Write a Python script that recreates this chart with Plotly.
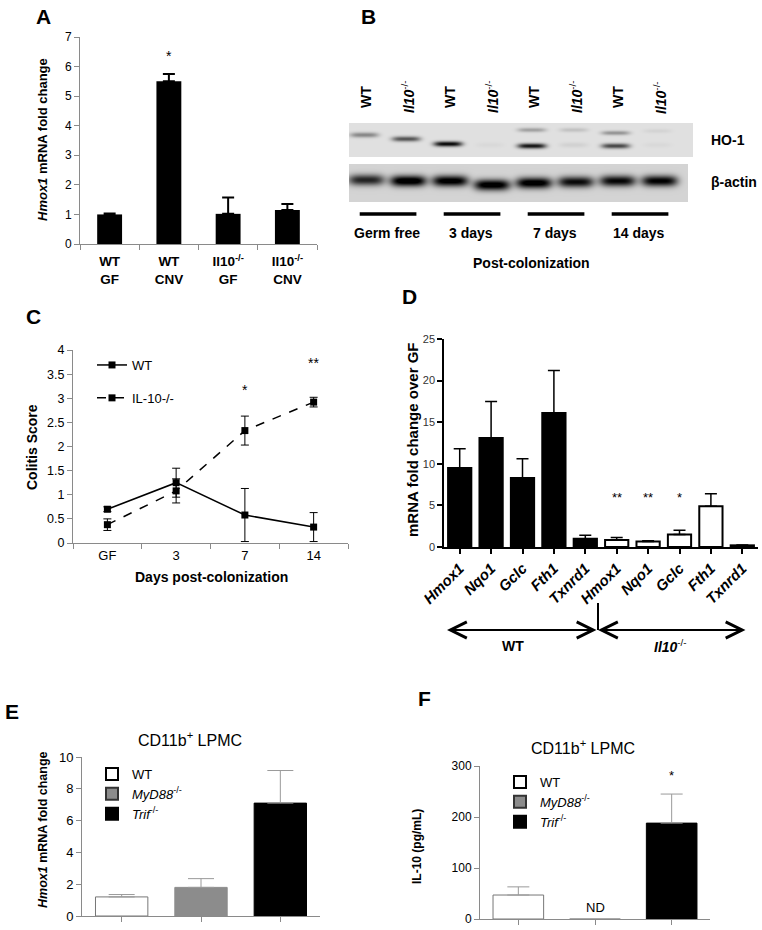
import numpy as np
import plotly.graph_objects as go

W, H = 762, 930
FONT = "Liberation Sans, Arial, sans-serif"


def px(x):
    return x / W


def py(y):
    return 1 - y / H


# ---------------- data ----------------
# Panel A
a_groups = ["WT<br>GF", "WT<br>CNV", "Il10<sup>-/-</sup><br>GF", "Il10<sup>-/-</sup><br>CNV"]
a_values = [1.0, 5.5, 1.02, 1.15]
a_err = [0.03, 0.25, 0.55, 0.2]
a_stars = ["", "*", "", ""]

# Panel B (western blot band intensities, 8 lanes)
b_lane_names = ["WT", "Il10-/-", "WT", "Il10-/-", "WT", "Il10-/-", "WT", "Il10-/-"]
b_ho1 = [0.35, 0.55, 0.85, 0.03, 0.80, 0.06, 0.60, 0.03]
b_ho1_row = [12, 16, 21, 22, 23, 22, 23, 22]
b_ho1_upper = [0.0, 0.0, 0.0, 0.0, 0.25, 0.12, 0.30, 0.05]
b_ho1_upper_row = [6, 6, 6, 6, 7, 7, 10, 8]
b_actin = [0.70, 0.95, 0.90, 0.92, 0.92, 0.80, 0.82, 0.85]
b_actin_row = [57, 58, 58, 62, 60, 59, 58, 58]
b_timepoints = ["Germ free", "3 days", "7 days", "14 days"]

# Panel C
c_days = ["GF", "3", "7", "14"]
c_wt = [0.70, 1.25, 0.58, 0.33]
c_wt_err = [0.05, 0.30, 0.55, 0.30]
c_il10 = [0.38, 1.08, 2.33, 2.92]
c_il10_err = [0.12, 0.25, 0.30, 0.10]
c_stars = ["", "", "*", "**"]
c_star_y = [0, 0, 3.17, 3.73]

# Panel D
d_genes = ["Hmox1", "Nqo1", "Gclc", "Fth1", "Txnrd1"]
d_wt = [9.5, 13.1, 8.3, 16.1, 1.0]
d_wt_err = [2.3, 4.4, 2.3, 5.1, 0.4]
d_il10 = [0.85, 0.65, 1.5, 4.9, 0.2]
d_il10_err = [0.3, 0.1, 0.5, 1.5, 0.05]
d_il10_stars = ["**", "**", "*", "", ""]

# Panel E
e_groups = ["WT", "<i>MyD88</i><sup>-/-</sup>", "<i>Trif</i><sup>-/-</sup>"]
e_values = [1.2, 1.8, 7.1]
e_err = [0.15, 0.55, 2.05]

# Panel F
f_values = [47, 0, 188]
f_err = [16, 0, 57]
f_labels = ["", "ND", ""]
f_stars = ["", "", "*"]

group_fill = ["white", "#8c8c8c", "black"]
group_line = ["#777777", "#8c8c8c", "black"]
legend_line = ["black", "#333333", "black"]

fig = go.Figure()

# ---------------- Panel A ----------------
fig.add_trace(go.Bar(
    x=a_groups, y=a_values, width=0.42,
    marker=dict(color="black", line=dict(width=0)),
    error_y=dict(type="data", array=a_err, arrayminus=[0] * 4, symmetric=False,
                 color="black", thickness=2, width=6),
    xaxis="x", yaxis="y", showlegend=False, hoverinfo="skip"))

# ---------------- Panel B (blot) ----------------
nx, nrows = 344, 79
xs = np.linspace(-0.405, 7.786, nx)
rows = np.arange(nrows) + 0.5
X, R = np.meshgrid(xs, rows)
ho = np.full_like(X, 0.12)
for i in range(8):
    hprof = np.exp(-((X - i + 0.05) / 0.34) ** 4)
    ho += b_ho1[i] * hprof * np.exp(-((R - b_ho1_row[i]) / 2.6) ** 2)
    ho += b_ho1_upper[i] * hprof * np.exp(-((R - b_ho1_upper_row[i]) / 2.2) ** 2)
ac = np.full_like(X, 0.17)
for i in range(8):
    hprof = np.exp(-((X - i) / 0.43) ** 4)
    ac += b_actin[i] * hprof * np.exp(-((R - b_actin_row[i]) / 5.5) ** 2)
z = np.full((nrows, nx), np.nan)
m1 = R < 34
m2 = (R >= 41) & (X <= 7.667)
z[m1] = np.clip(ho, 0, 1)[m1]
z[m2] = np.clip(ac, 0, 1)[m2]
fig.add_trace(go.Heatmap(
    z=z, x=xs, y=rows, colorscale=[[0, "#ffffff"], [1, "#000000"]],
    zmin=0, zmax=1, showscale=False, hoverinfo="skip",
    xaxis="x6", yaxis="y6"))

# ---------------- Panel C ----------------
fig.add_trace(go.Scatter(
    x=c_days, y=c_wt, mode="lines+markers", name="WT",
    line=dict(color="black", width=1.5),
    marker=dict(symbol="square", size=7, color="black"),
    error_y=dict(type="data", array=c_wt_err, color="black", thickness=1, width=4),
    xaxis="x2", yaxis="y2", legend="legend", legendgroup="wt", hoverinfo="skip"))
fig.add_trace(go.Scatter(
    x=c_days, y=c_il10, mode="lines+markers", name="IL-10-/-",
    line=dict(color="black", width=1.5, dash="dash"),
    marker=dict(symbol="square", size=7, color="black"),
    error_y=dict(type="data", array=c_il10_err, color="black", thickness=1, width=4),
    xaxis="x2", yaxis="y2", legend="legend", legendgroup="il10", hoverinfo="skip"))

# ---------------- Panel D ----------------
d_x = list(range(10))
d_vals = d_wt + d_il10
d_errs = d_wt_err + d_il10_err
fig.add_trace(go.Bar(
    x=d_x, y=d_vals, width=0.74,
    marker=dict(color=["black"] * 5 + ["white"] * 5, line=dict(color="black", width=2)),
    error_y=dict(type="data", array=d_errs, arrayminus=[0] * 10, symmetric=False,
                 color="black", thickness=1.5, width=6),
    xaxis="x3", yaxis="y3", showlegend=False, hoverinfo="skip"))

# ---------------- Panel E ----------------
for i in range(3):
    fig.add_trace(go.Bar(
        x=[i], y=[e_values[i]], width=0.66,
        marker=dict(color=group_fill[i], line=dict(color=group_line[i], width=1)),
        error_y=dict(type="data", array=[e_err[i]], arrayminus=[0], symmetric=False,
                     color="#9a9a9a", thickness=1, width=13),
        xaxis="x4", yaxis="y4", showlegend=False, hoverinfo="skip"))
for i in range(3):
    fig.add_trace(go.Bar(
        x=[None], y=[None], name=e_groups[i],
        marker=dict(color=group_fill[i], line=dict(color=legend_line[i], width=2)),
        xaxis="x4", yaxis="y4", legend="legend2", showlegend=True))

# ---------------- Panel F ----------------
for i in range(3):
    fig.add_trace(go.Bar(
        x=[i], y=[f_values[i]], width=0.66,
        marker=dict(color=group_fill[i], line=dict(color=group_line[i], width=1)),
        error_y=dict(type="data", array=[f_err[i]], arrayminus=[0], symmetric=False,
                     color="#9a9a9a", thickness=1, width=11, visible=f_err[i] > 0),
        xaxis="x5", yaxis="y5", showlegend=False, hoverinfo="skip"))
for i in range(3):
    fig.add_trace(go.Bar(
        x=[None], y=[None], name=e_groups[i],
        marker=dict(color=group_fill[i], line=dict(color=legend_line[i], width=2)),
        xaxis="x5", yaxis="y5", legend="legend3", showlegend=True))

# ---------------- axes ----------------
GRAY = "#8a8a8a"


def ax(color, **kw):
    d = dict(showline=True, linecolor=color, linewidth=1, ticks="outside", ticklen=5,
             tickcolor=color, showgrid=False, zeroline=False, automargin=False,
             tickfont=dict(family=FONT, size=12, color="black"))
    d.update(kw)
    return d


layout = dict(
    width=W, height=H, margin=dict(l=0, r=0, t=0, b=0, pad=0, autoexpand=False),
    paper_bgcolor="white", plot_bgcolor="white", barmode="overlay",
    font=dict(family=FONT, color="black"),
    xaxis=ax(GRAY, domain=[px(80), px(317)], anchor="y", type="category",
             tickson="boundaries", range=[-0.5, 3.5], ticklabelstandoff=5,
             tickfont=dict(family=FONT, size=13.5, color="black", weight="bold")),
    yaxis=ax(GRAY, domain=[py(244), py(37)], anchor="x", range=[0, 7], dtick=1),
    xaxis2=ax(GRAY, domain=[px(73), px(348)], anchor="y2", type="category",
              tickson="boundaries", range=[-0.5, 3.5],
              tickfont=dict(family=FONT, size=13, color="black")),
    yaxis2=ax(GRAY, domain=[py(543), py(350)], anchor="x2", range=[0, 4], dtick=0.5,
              tickfont=dict(family=FONT, size=12.5, color="black")),
    xaxis3=ax("black", domain=[px(444), px(758)], anchor="y3", range=[-0.5, 9.5],
              tickvals=d_x, ticktext=d_genes + d_genes, tickangle=-45, linewidth=1.5,
              tickwidth=1.5,
              tickfont=dict(family=FONT, size=15, color="black", weight="bold", style="italic")),
    yaxis3=ax("black", domain=[py(547), py(339)], anchor="x3", range=[0, 25], dtick=5,
              linewidth=1.5, tickwidth=1.5,
              tickfont=dict(family=FONT, size=11, color="#333333")),
    xaxis4=ax(GRAY, domain=[px(82), px(320)], anchor="y4", range=[-0.5, 2.5],
              tickvals=[0, 1, 2], showticklabels=False),
    yaxis4=ax(GRAY, domain=[py(916), py(757)], anchor="x4", range=[0, 10], dtick=2,
              tickfont=dict(family=FONT, size=13, color="black")),
    xaxis5=ax(GRAY, domain=[px(480), px(710)], anchor="y5", range=[-0.5, 2.5],
              tickvals=[0, 1, 2], showticklabels=False),
    yaxis5=ax(GRAY, domain=[py(919), py(766)], anchor="x5", range=[0, 300], dtick=100,
              tickfont=dict(family=FONT, size=12, color="black")),
    xaxis6=dict(domain=[px(349), px(693)], anchor="y6", range=[-0.405, 7.786], visible=False),
    yaxis6=dict(domain=[py(202), py(123)], anchor="x6", range=[nrows, 0], visible=False),
    legend=dict(x=px(92), y=py(350), xanchor="left", yanchor="top",
                bgcolor="rgba(0,0,0,0)", font=dict(family=FONT, size=13),
                tracegroupgap=13),
    legend2=dict(x=px(92), y=py(759), xanchor="left", yanchor="top",
                 bgcolor="rgba(0,0,0,0)", font=dict(family=FONT, size=13),
                 tracegroupgap=0, traceorder="normal"),
    legend3=dict(x=px(500), y=py(767), xanchor="left", yanchor="top",
                 bgcolor="rgba(0,0,0,0)", font=dict(family=FONT, size=13),
                 tracegroupgap=0, traceorder="normal"),
)
fig.update_layout(**layout)

ann = []


def text(x, y, t, size=13, xref="paper", yref="paper", angle=0, xanchor="center",
         yanchor="middle", color="black"):
    ann.append(dict(x=x, y=y, xref=xref, yref=yref, text=t, showarrow=False,
                    textangle=angle, xanchor=xanchor, yanchor=yanchor,
                    font=dict(family=FONT, size=size, color=color)))


# panel letters
for lab, (lx, ly) in {"A": (43, 16), "B": (368, 16), "C": (33, 316), "D": (409, 296),
                      "E": (12, 711), "F": (424, 698)}.items():
    text(px(lx), py(ly), "<b>%s</b>" % lab, size=21)

# A
text(px(43), py(140), "<b><i>Hmox1</i> mRNA fold change</b>", size=13, angle=-90)
for i, (s, v, e) in enumerate(zip(a_stars, a_values, a_err)):
    if s:
        ann.append(dict(x=i, y=v + e + 0.6, xref="x", yref="y", text=s, showarrow=False,
                        font=dict(family=FONT, size=14, color="black")))

# B
for i, n in enumerate(b_lane_names):
    t = "<b>WT</b>" if n == "WT" else "<b><i>Il10</i></b><sup>-/-</sup>"
    text(i, py(97), t, size=14, xref="x6", angle=-90)
text(px(709), py(140), "<b>HO-1</b>", size=14, xanchor="left")
text(px(709), py(182), "<b>β-actin</b>", size=14, xanchor="left")
shapes = []
for k, tp in enumerate(b_timepoints):
    shapes.append(dict(type="line", xref="x6", yref="paper", x0=2 * k - 0.15,
                       x1=2 * k + 1.2, y0=py(214), y1=py(214),
                       line=dict(color="black", width=3.5)))
    text(2 * k + 0.5, py(233), "<b>%s</b>" % tp, size=14, xref="x6")
text(px(531), py(263), "<b>Post-colonization</b>", size=14)

# C
text(px(32), py(447), "<b>Colitis Score</b>", size=14, angle=-90)
text(px(211), py(577), "<b>Days post-colonization</b>", size=14)
for i, (s, yv) in enumerate(zip(c_stars, c_star_y)):
    if s:
        ann.append(dict(x=i, y=yv, xref="x2", yref="y2", text=s, showarrow=False,
                        font=dict(family=FONT, size=14, color="black")))

# D
text(px(412), py(440), "<b>mRNA fold change over GF</b>", size=15, angle=-90)
for i, s in enumerate(d_il10_stars):
    if s:
        ann.append(dict(x=5 + i, y=5.9, xref="x3", yref="y3", text=s, showarrow=False,
                        font=dict(family=FONT, size=13, color="black")))
for x0, x1 in [(447, 598), (598, 747)]:
    ann.append(dict(x=px(x0), y=py(630), ax=x1 - x0, ay=0, xref="paper", yref="paper",
                    axref="pixel", ayref="pixel", showarrow=True, arrowhead=5,
                    startarrowhead=5, arrowside="end+start", arrowsize=1.6,
                    startarrowsize=1.6, arrowwidth=2, arrowcolor="black", text=""))
shapes.append(dict(type="line", xref="paper", yref="paper", x0=px(598), x1=px(598),
                   y0=py(603), y1=py(630), line=dict(color="black", width=2)))
text(px(513), py(646), "<b>WT</b>", size=14)
text(px(670), py(646), "<b><i>Il10</i></b><sup>-/-</sup>", size=14)

# E
text(px(190), py(739), "CD11b<sup>+</sup> LPMC", size=16)
text(px(43), py(830), "<b><i>Hmox1</i> mRNA fold change</b>", size=12.5, angle=-90)

# F
text(px(583), py(747), "CD11b<sup>+</sup> LPMC", size=16)
text(px(417), py(847), "<b>IL-10 (pg/mL)</b>", size=12, angle=-90)
for i in range(3):
    if f_labels[i]:
        ann.append(dict(x=i, y=22, xref="x5", yref="y5", text=f_labels[i], showarrow=False,
                        font=dict(family=FONT, size=13, color="black")))
    if f_stars[i]:
        ann.append(dict(x=i, y=f_values[i] + f_err[i] + 37, xref="x5", yref="y5",
                        text=f_stars[i], showarrow=False,
                        font=dict(family=FONT, size=13, color="black")))

fig.update_layout(annotations=ann, shapes=shapes)
fig.write_html("out.html", config={"displayModeBar": False},
               post_script="document.body.style.margin='0';"
                           "document.body.style.overflow='hidden';")
